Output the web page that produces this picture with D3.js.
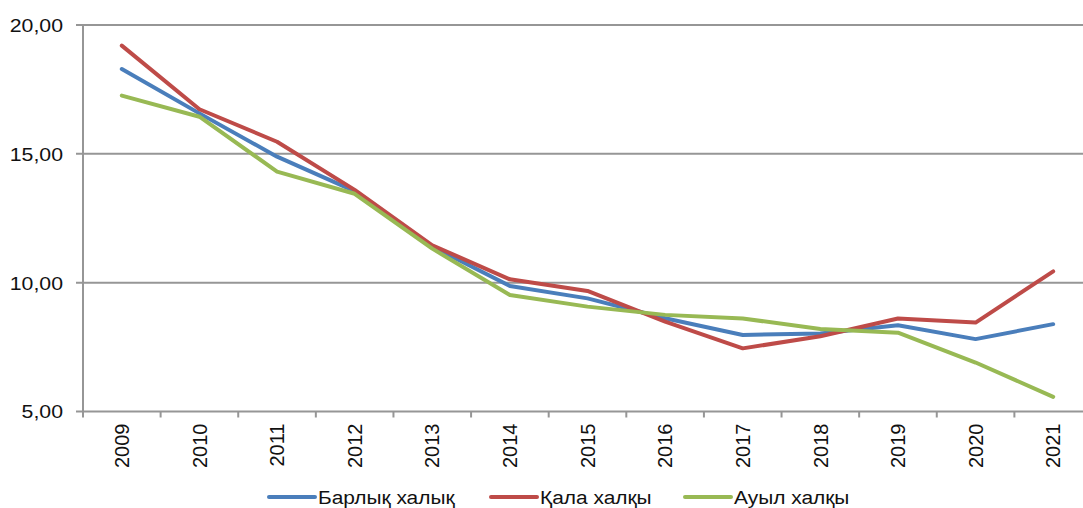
<!DOCTYPE html>
<head>
  <meta charset="utf-8">
  <script src="https://d3js.org/d3.v7.min.js"></script>
  <style>
    body {
      margin: 0;
      background: #fff;
      font-family: "Liberation Sans", Arial, sans-serif;
    }

    text {
      font-family: "Liberation Sans", Arial, sans-serif;
      fill: #111;
    }

    .grid line {
      stroke: #969696;
      stroke-width: 2;
    }

    .line {
      fill: none;
      stroke-width: 4;
      stroke-linejoin: round;
      stroke-linecap: round;
    }
  </style>
</head>

<body>
  <script>
    var years = ["2009", "2010", "2011", "2012", "2013", "2014", "2015",
      "2016", "2017", "2018", "2019", "2020", "2021"];

    // Барлық халық
    var total = [18.29, 16.57, 14.89, 13.55, 11.40, 9.87, 9.39, 8.62, 7.97, 8.03, 8.35, 7.81, 8.39];
    // Қала халқы
    var urban = [19.20, 16.73, 15.47, 13.60, 11.45, 10.13, 9.68, 8.49, 7.45, 7.92, 8.61, 8.45, 10.44];
    // Ауыл халқы
    var rural = [17.26, 16.44, 14.31, 13.45, 11.32, 9.52, 9.07, 8.75, 8.61, 8.20, 8.06, 6.90, 5.57];

    var yTicks = [5, 10, 15, 20];

    var series = [
      { name: "Барлық халық", values: total, color: "#4a7ebb" },
      { name: "Қала халқы", values: urban, color: "#be4b48" },
      { name: "Ауыл халқы", values: rural, color: "#98b954" }
    ];

    var margin = { top: 25, left: 83 },
      width = 1009,
      height = 386.5;

    var svg = d3.select("body").append("svg")
      .attr("width", 1083)
      .attr("height", 508)
      .style("display", "block");

    var g = svg.append("g")
      .attr("transform", "translate(" + margin.left + "," + margin.top + ")");

    var x = d3.scaleBand()
      .domain(years)
      .range([0, width])
      .padding(0);

    var y = d3.scaleLinear()
      .domain([5, 20])
      .range([height, 0]);

    var fmt = function (v) { return d3.format(".2f")(v).replace(".", ","); };

    // gridlines + y labels
    var grid = g.append("g").attr("class", "grid");
    grid.selectAll("line.h")
      .data(yTicks)
      .enter().append("line")
      .attr("class", "h")
      .attr("x1", -7)
      .attr("x2", width)
      .attr("y1", function (d) { return y(d); })
      .attr("y2", function (d) { return y(d); });

    // text in the source is a bit wider than Liberation Sans, so stretch it
    g.selectAll(".ylab")
      .data(yTicks)
      .enter().append("text")
      .attr("class", "ylab")
      .attr("transform", function (d) { return "translate(-20," + y(d) + ") scale(1.12,1)"; })
      .attr("dy", "0.36em")
      .style("text-anchor", "end")
      .style("font-size", "19px")
      .text(fmt);

    // y axis line
    grid.append("line")
      .attr("x1", 0).attr("x2", 0)
      .attr("y1", 0).attr("y2", height);

    // x ticks at band edges
    var edges = years.map(function (d) { return x(d); }).concat([width]);
    grid.selectAll("line.xt")
      .data(edges)
      .enter().append("line")
      .attr("class", "xt")
      .attr("x1", function (d) { return d; })
      .attr("x2", function (d) { return d; })
      .attr("y1", height)
      .attr("y2", height + 6);

    g.selectAll(".xlab")
      .data(years)
      .enter().append("text")
      .attr("class", "xlab")
      .attr("transform", function (d) {
        return "translate(" + (x(d) + x.bandwidth() / 2) + "," + (height + 12) + ") rotate(-90)";
      })
      .attr("dy", "0.36em")
      .style("text-anchor", "end")
      .style("font-size", "20px")
      .text(function (d) { return d; });

    var line = d3.line()
      .x(function (d, i) { return x(years[i]) + x.bandwidth() / 2; })
      .y(function (d) { return y(d); });

    g.selectAll(".line")
      .data(series)
      .enter().append("path")
      .attr("class", "line")
      .attr("stroke", function (d) { return d.color; })
      .attr("d", function (d) { return line(d.values); });

    // legend
    var legendX = [268, 490, 684];
    var legend = svg.selectAll(".legend")
      .data(series)
      .enter().append("g")
      .attr("class", "legend")
      .attr("transform", function (d, i) { return "translate(" + legendX[i] + ",497)"; });

    legend.append("line")
      .attr("x1", 1).attr("x2", 47)
      .attr("y1", 0).attr("y2", 0)
      .attr("stroke", function (d) { return d.color; })
      .attr("stroke-width", 4)
      .attr("stroke-linecap", "round");

    legend.append("text")
      .attr("transform", "translate(50,0) scale(1.1,1)")
      .attr("dy", "0.36em")
      .style("font-size", "19px")
      .text(function (d) { return d.name; });
  </script>
</body>
